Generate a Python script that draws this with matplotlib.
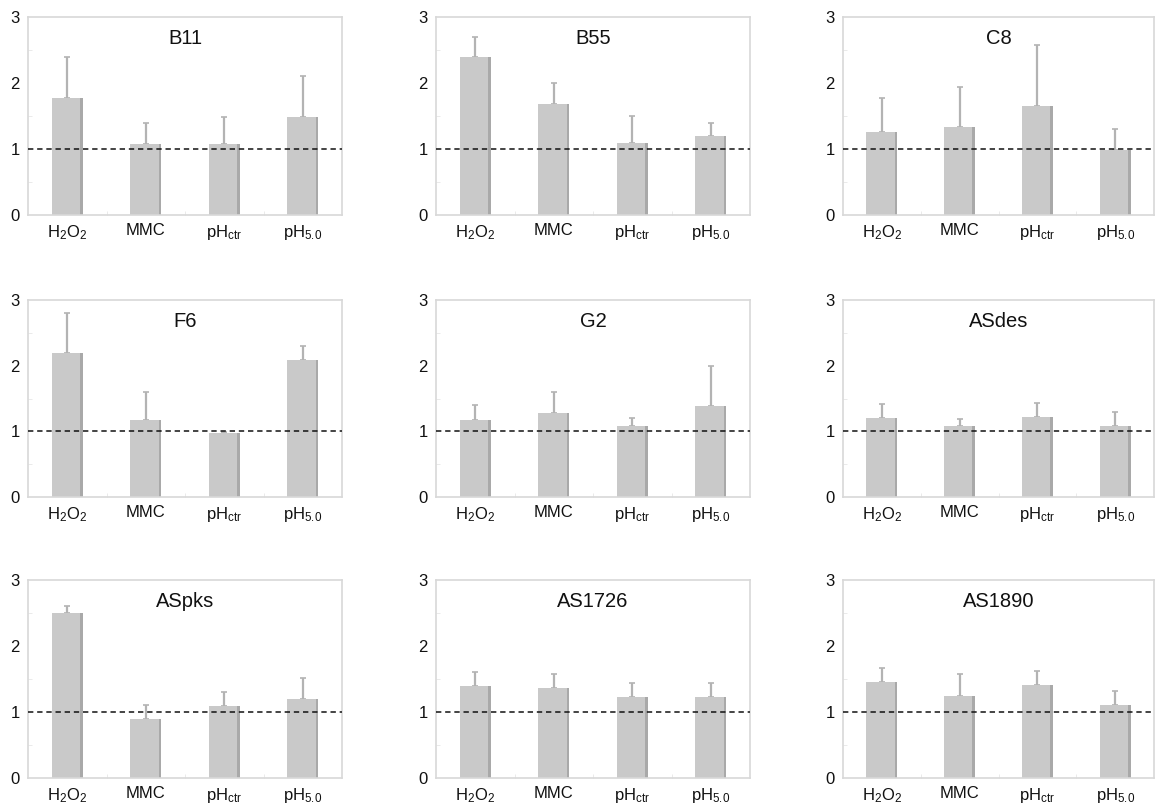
import matplotlib
matplotlib.use("Agg")
import matplotlib.pyplot as plt
import numpy as np

plt.rcParams['font.family'] = ['Liberation Sans', 'DejaVu Sans']
plt.rcParams['mathtext.fontset'] = 'custom'
plt.rcParams['mathtext.rm'] = 'Liberation Sans'
plt.rcParams['mathtext.it'] = 'Liberation Sans:italic'
plt.rcParams['mathtext.bf'] = 'Liberation Sans:bold'

categories = ['H$_2$O$_2$', 'MMC', 'pH$_{\\rm ctr}$', 'pH$_{5.0}$']
panels = ['B11', 'B55', 'C8', 'F6', 'G2', 'ASdes', 'ASpks', 'AS1726', 'AS1890']

means = {
    'B11':    [1.78, 1.08, 1.08, 1.48],
    'B55':    [2.39, 1.68, 1.09, 1.19],
    'C8':     [1.26, 1.34, 1.65, 0.98],
    'F6':     [2.19, 1.18, 0.98, 2.09],
    'G2':     [1.18, 1.28, 1.08, 1.38],
    'ASdes':  [1.21, 1.08, 1.22, 1.08],
    'ASpks':  [2.50, 0.89, 1.09, 1.19],
    'AS1726': [1.39, 1.37, 1.23, 1.23],
    'AS1890': [1.45, 1.25, 1.41, 1.11],
}
upper = {
    'B11':    [2.40, 1.39, 1.49, 2.10],
    'B55':    [2.70, 2.00, 1.50, 1.40],
    'C8':     [1.78, 1.94, 2.57, 1.30],
    'F6':     [2.80, 1.60, 0.99, 2.30],
    'G2':     [1.40, 1.60, 1.20, 2.00],
    'ASdes':  [1.42, 1.19, 1.43, 1.29],
    'ASpks':  [2.61, 1.11, 1.31, 1.51],
    'AS1726': [1.61, 1.58, 1.44, 1.44],
    'AS1890': [1.66, 1.57, 1.62, 1.32],
}
reference_level = 1.0
yticks = [0, 1, 2, 3]

W, H = 1155, 809
fig = plt.figure(figsize=(W / 100, H / 100), dpi=100)

col_left = [28, 436, 843]
col_width = [314, 314, 311]
row_top = [17, 300, 580]
row_height = [198, 197, 198]

bar_w = 0.4
shade_w = 0.035
spine_col = '#d8d8d8'

for i, name in enumerate(panels):
    r, c = divmod(i, 3)
    left = col_left[c] / W
    bottom = 1 - (row_top[r] + row_height[r]) / H
    ax = fig.add_axes([left, bottom, col_width[c] / W, row_height[r] / H])
    x = np.arange(len(categories)) + 0.5
    vals = np.array(means[name])
    up = np.array(upper[name])
    err = np.clip(up - vals, 0, None)
    ax.bar(x, vals, width=bar_w, color='#c9c9c9', edgecolor='none', zorder=2)
    ax.bar(x + bar_w / 2 - shade_w / 2, vals, width=shade_w, color='#a9a9a9',
           edgecolor='none', zorder=2)
    ax.errorbar(x, vals, yerr=[np.zeros_like(err), err], fmt='none',
                ecolor='#b3b3b3', elinewidth=1.6, capsize=2, capthick=1.2, zorder=1)
    ax.axhline(reference_level, color='#111111', lw=1.1, ls=(0, (3.5, 2.5)), zorder=3)
    ax.set_xlim(0, len(categories))
    ax.set_ylim(0, 3)
    ax.set_yticks(yticks)
    ax.set_yticklabels([str(t) for t in yticks], fontsize=12)
    ax.set_yticks([0.5, 1.5, 2.5], minor=True)
    ax.set_xticks(x)
    ax.set_xticklabels(categories, fontsize=12)
    ax.set_xticks(np.arange(1, len(categories)), minor=True)
    ax.tick_params(axis='y', which='major', length=0, pad=6, colors='#111111')
    ax.tick_params(axis='x', which='major', length=0, pad=6, colors='#111111')
    ax.tick_params(which='minor', direction='in', length=3, color='#e6e6e6')
    for s in ax.spines.values():
        s.set_color(spine_col)
        s.set_linewidth(1.2)
    ax.text(0.5, 0.89, name, transform=ax.transAxes, ha='center', va='center',
            fontsize=14.5, color='#111111')

fig.savefig('out.png', dpi=100)
